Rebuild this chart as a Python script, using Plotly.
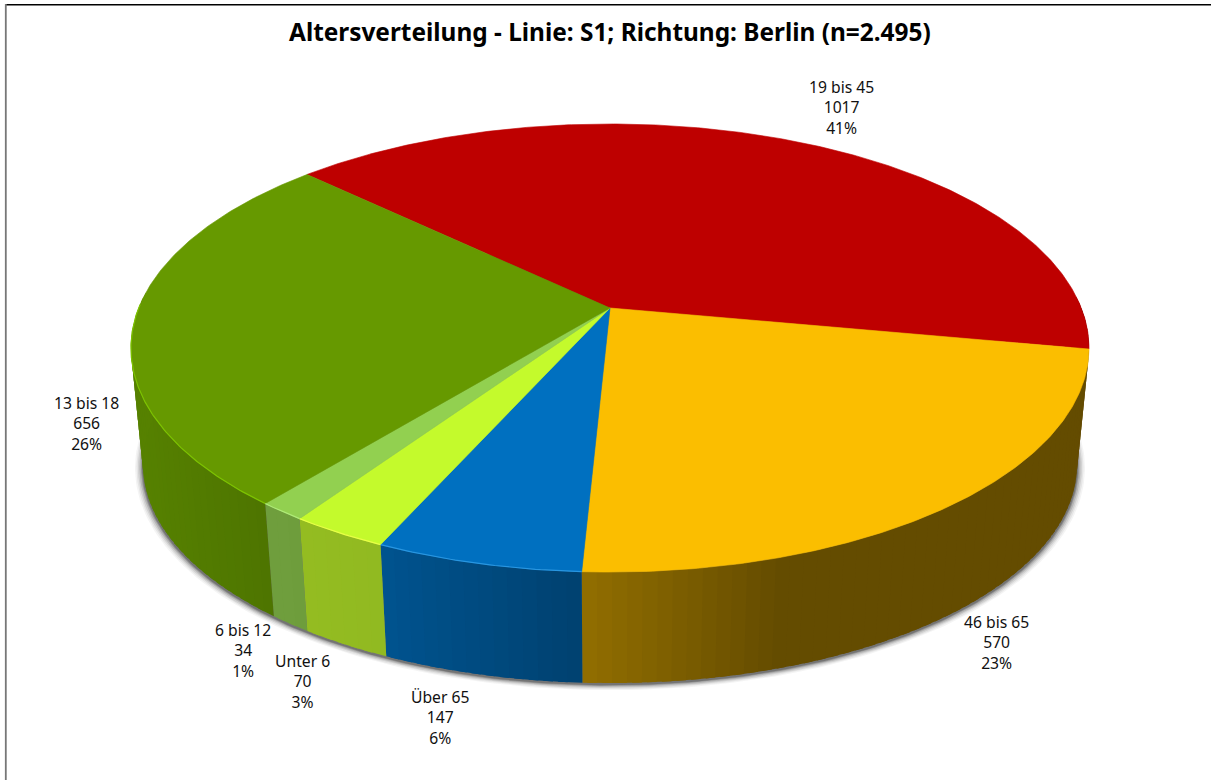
import numpy as np
import plotly.graph_objects as go

TITLE = "Altersverteilung - Linie: S1; Richtung: Berlin (n=2.495)"
categories = ["19 bis 45", "46 bis 65", "Über 65", "Unter 6", "6 bis 12", "13 bis 18"]
values = [1017, 570, 147, 70, 34, 656]
percents = [41, 23, 6, 3, 1, 26]
colors = [(190, 0, 0), (251, 190, 0), (0, 112, 192), (196, 250, 44), (146, 208, 80), (102, 153, 0)]
rims = [None, None, (40, 150, 225), (232, 255, 70), (175, 235, 120), (125, 195, 0)]
label_xy = [(841, 107), (996, 642), (440, 717), (302, 681), (243, 650), (86, 423)]

W, H = 1211, 780
APEX_X, APEX_Y = 610, 308
K, A, C = 0.1786, 216.9, 471.3   # perspective of the top disc
S, VY = 0.975, 5012              # perspective of the extrusion
START = 136.25                   # degrees, clockwise


def top(theta):
    t = np.radians(theta)
    u, v = np.cos(t), np.sin(t)
    d = 1 + K * v
    return APEX_X + C * u / d, APEX_Y - A * v / d


def bottom(theta):
    x, y = top(theta)
    return APEX_X + S * (x - APEX_X), VY + S * (y - VY)


def rgb(c, f=1.0, a=None):
    r, g, b = [int(round(min(255, ch * f))) for ch in c]
    return f"rgb({r},{g},{b})" if a is None else f"rgba({r},{g},{b},{a})"


def shade(x):
    return float(np.interp(x, [140, 270, 385, 583, 780, 1080], [0.84, 0.76, 0.74, 0.58, 0.40, 0.40]))


fig = go.Figure()


def poly(xs, ys, fill, line=None, lw=0.6):
    fig.add_trace(go.Scatter(x=list(xs), y=list(ys), mode="lines", fill="toself", fillcolor=fill,
                             line=dict(color=line or fill, width=lw), hoverinfo="skip", showlegend=False))


# soft shadow under the disc
th_all = np.linspace(0, 360, 361)
bx, by = bottom(th_all)
for grow, alpha in [(8, 0.06), (6.5, 0.08), (5, 0.12), (3.5, 0.18), (2, 0.28), (1, 0.35)]:
    f = 1 + grow / 470
    poly(APEX_X + f * (bx - APEX_X), 350 + f * (by - 350) + 1.5, f"rgba(60,60,60,{alpha})", lw=0)

total = sum(values)
spans = [v / total * 360 for v in values]
edges = START - np.cumsum([0] + spans)

# side walls: each strip overlaps its neighbour so no seams show
for i, c in enumerate(colors):
    hi, lo = edges[i], edges[i + 1]
    steps = max(2, int((hi - lo) / 1.5))
    grid = np.linspace(hi, lo, steps + 1)
    for a0, a1 in zip(grid[:-1], grid[1:]):
        if np.sin(np.radians((a0 + a1) / 2)) > 0.05:
            continue
        a_far = min(hi, a0)
        a_near = max(lo, a1 - 1.0)
        th = np.linspace(a_far, a_near, 5)
        tx, ty = top(np.linspace(a0, a1, 5))
        fx, fy = top(th)
        ux, uy = bottom(th[::-1])
        poly(np.r_[fx, ux, fx[0]], np.r_[fy, uy, fy[0]], rgb(c, shade(tx.mean())), lw=0)

# top surface
for i, c in enumerate(colors):
    th = np.linspace(edges[i], edges[i + 1], max(3, int(spans[i] * 2)))
    tx, ty = top(th)
    poly(np.r_[APEX_X, tx, APEX_X], np.r_[APEX_Y, ty, APEX_Y], rgb(c))

# bright front rim
for i, r in enumerate(rims):
    if r is None:
        continue
    th = np.linspace(edges[i], edges[i + 1], max(3, int(spans[i] * 2)))
    th = th[np.sin(np.radians(th)) < 0.02]
    tx, ty = top(th)
    fig.add_trace(go.Scatter(x=tx, y=ty, mode="lines", line=dict(color=rgb(r), width=1.2),
                             hoverinfo="skip", showlegend=False))

FONT = "Noto Sans"
for cat, val, pct, (lx, ly) in zip(categories, values, percents, label_xy):
    fig.add_annotation(x=lx, y=ly, text=f"{cat}<br>{val}<br>{pct}%", showarrow=False, xanchor="center",
                       yanchor="middle", align="center", font=dict(family=FONT, size=15.7, color="#111"))

fig.add_annotation(x=610, y=31, text=f"<b>{TITLE}</b>", showarrow=False, xanchor="center", yanchor="middle",
                   font=dict(family=FONT, size=24.4, color="black"))

fig.update_layout(
    width=W, height=H, margin=dict(l=0, r=0, t=0, b=0), paper_bgcolor="white", plot_bgcolor="white",
    xaxis=dict(range=[0, W], visible=False, fixedrange=True),
    yaxis=dict(range=[H, 0], visible=False, fixedrange=True),
    shapes=[
        dict(type="line", xref="x", yref="y", x0=5, x1=W, y0=4.8, y1=4.8, line=dict(color="black", width=1.5)),
        dict(type="line", xref="x", yref="y", x0=5.8, x1=5.8, y0=4, y1=H, line=dict(color="#777", width=1.8)),
    ],
)
fig.write_html("out.html", config={"displayModeBar": False},
               post_script="document.body.style.margin='0';document.body.style.overflow='hidden';")
